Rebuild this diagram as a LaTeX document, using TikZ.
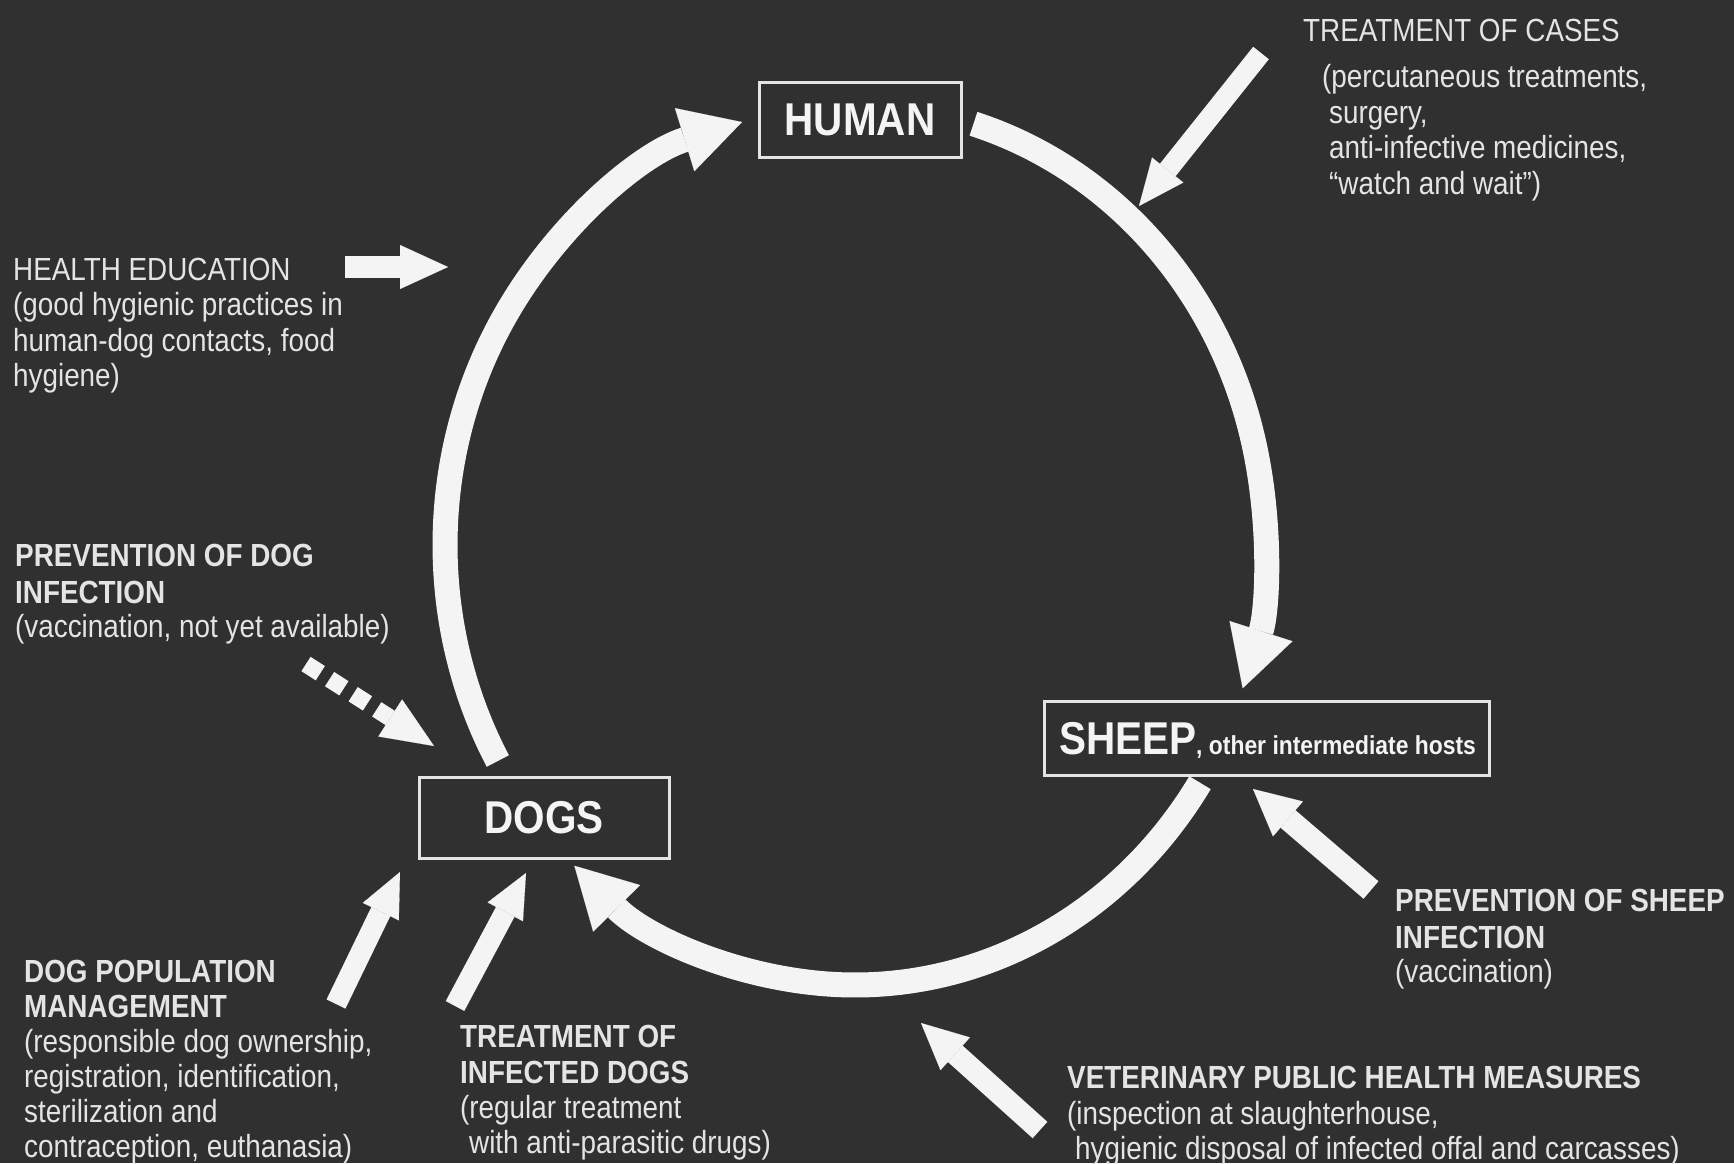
\documentclass[tikz,border=0pt]{standalone}
\usepackage{fontspec}
\usetikzlibrary{arrows.meta,calc}
\newfontfamily\labfont[FakeStretch=0.87]{Liberation Sans}
\newfontfamily\bigfont[FakeStretch=0.88]{Liberation Sans}
\definecolor{bg}{RGB}{48,48,48}
\definecolor{fg}{RGB}{244,244,244}
\definecolor{tx}{RGB}{228,228,228}
\tikzset{
  cyc/.style={line width=25pt,draw=fg,-{Triangle[length=60pt,width=66pt,line width=0.1pt]}},
  blk/.style={line width=#1,draw=fg},
  hostbox/.style={draw=tx,line width=3pt,fill=bg,inner sep=0pt,text=fg,font=\bigfont\fontsize{46}{50}\selectfont\bfseries},
  lab/.style={anchor=base west,inner sep=0pt,text=tx,font=\labfont\fontsize{32}{36}\selectfont},
  labb/.style={lab,font=\labfont\fontsize{32}{36}\selectfont\bfseries}
}
\begin{document}
\begin{tikzpicture}[x=1pt,y=-1pt]
\useasboundingbox (0,0) rectangle (1734,1163);
\fill[bg] (0,0) rectangle (1734,1163);
% hosts
\node[hostbox,minimum width=202pt,minimum height=75pt] (human) at (860,119.5) {HUMAN};
\node[hostbox,minimum width=250pt,minimum height=81pt] (dogs) at (544,817.5) {DOGS};
\node[hostbox,minimum width=445pt,minimum height=74pt,text height=33pt,text depth=0pt] (sheep) at (1266.5,738) {\makebox[415pt][l]{SHEEP{\fontsize{26}{28}\selectfont, other intermediate hosts}}};
% cycle
\coordinate (C) at (855,545);
\draw[cyc] (C) ++(150.6:410 and 440) coordinate (a1s) arc[start angle=150.6,end angle=254,x radius=410,y radius=440] coordinate (a1e);
\draw[cyc] (C) ++(-73.2:410 and 440) coordinate (a2s) arc[start angle=-73.2,end angle=19,x radius=410,y radius=440] coordinate (a2e);
\draw[cyc] (C) ++(32.7:410 and 440) coordinate (a3s) arc[start angle=32.7,end angle=133.2,x radius=410,y radius=440] coordinate (a3e);
% control arrows
\coordinate (heT) at (345,267); \coordinate (heP) at (448,267);
\draw[blk=22pt,-{Triangle[length=48pt,width=44pt,line width=0.1pt]}] (heT) -- (heP);
\coordinate (tcT) at (1261,53); \coordinate (tcP) at (1139,206);
\draw[blk=20pt,-{Triangle[length=46pt,width=40pt,line width=0.1pt]}] (tcT) -- (tcP);
\coordinate (pdT) at (306,664); \coordinate (pdP) at (434,746);
\draw[blk=17pt,dash pattern=on 17pt off 11pt,-{Triangle[length=52pt,width=44pt,line width=0.1pt]}] (pdT) -- (pdP);
\coordinate (dpT) at (336,1004); \coordinate (dpP) at (400,872);
\draw[blk=21pt,-{Triangle[length=44pt,width=40pt,line width=0.1pt]}] (dpT) -- (dpP);
\coordinate (tiT) at (455,1006); \coordinate (tiP) at (526,873);
\draw[blk=21pt,-{Triangle[length=44pt,width=40pt,line width=0.1pt]}] (tiT) -- (tiP);
\coordinate (psT) at (1371,890); \coordinate (psP) at (1253,789);
\draw[blk=23pt,-{Triangle[length=46pt,width=46pt,line width=0.1pt]}] (psT) -- (psP);
\coordinate (vpT) at (1040,1130); \coordinate (vpP) at (921,1023);
\draw[blk=22pt,-{Triangle[length=46pt,width=44pt,line width=0.1pt]}] (vpT) -- (vpP);
% texts
\node[lab] (tcH) at (1303,41) {TREATMENT OF CASES};
\node[lab] (tc1) at (1322,87) {(percutaneous treatments,};
\node[lab] (tc2) at (1329,123) {surgery,};
\node[lab] (tc3) at (1329,158) {anti-infective medicines,};
\node[lab] (tc4) at (1329,194) {“watch and wait”)};
\node[lab] (heH) at (13,280) {HEALTH EDUCATION};
\node[lab] (he1) at (13,315) {(good hygienic practices in};
\node[lab] (he2) at (13,351) {human-dog contacts, food};
\node[lab] (he3) at (13,386) {hygiene)};
\node[labb] (pdH1) at (15,566) {PREVENTION OF DOG};
\node[labb] (pdH2) at (15,603) {INFECTION};
\node[lab] (pd1) at (15,637) {(vaccination, not yet available)};
\node[labb] (dpH1) at (24,982) {DOG POPULATION};
\node[labb] (dpH2) at (24,1017) {MANAGEMENT};
\node[lab] (dp1) at (24,1052) {(responsible dog ownership,};
\node[lab] (dp2) at (24,1087) {registration, identification,};
\node[lab] (dp3) at (24,1122) {sterilization and};
\node[lab] (dp4) at (24,1157) {contraception, euthanasia)};
\node[labb] (tiH1) at (460,1047) {TREATMENT OF};
\node[labb] (tiH2) at (460,1083) {INFECTED DOGS};
\node[lab] (ti1) at (460,1118) {(regular treatment};
\node[lab] (ti2) at (469,1153) {with anti-parasitic drugs)};
\node[labb] (psH1) at (1395,911) {PREVENTION OF SHEEP};
\node[labb] (psH2) at (1395,948) {INFECTION};
\node[lab] (ps1) at (1395,982) {(vaccination)};
\node[labb] (vH) at (1067,1088) {VETERINARY PUBLIC HEALTH MEASURES};
\node[lab] (v1) at (1067,1124) {(inspection at slaughterhouse,};
\node[lab] (v2) at (1075,1159) {hygienic disposal of infected offal and carcasses)};
\end{tikzpicture}
\end{document}
